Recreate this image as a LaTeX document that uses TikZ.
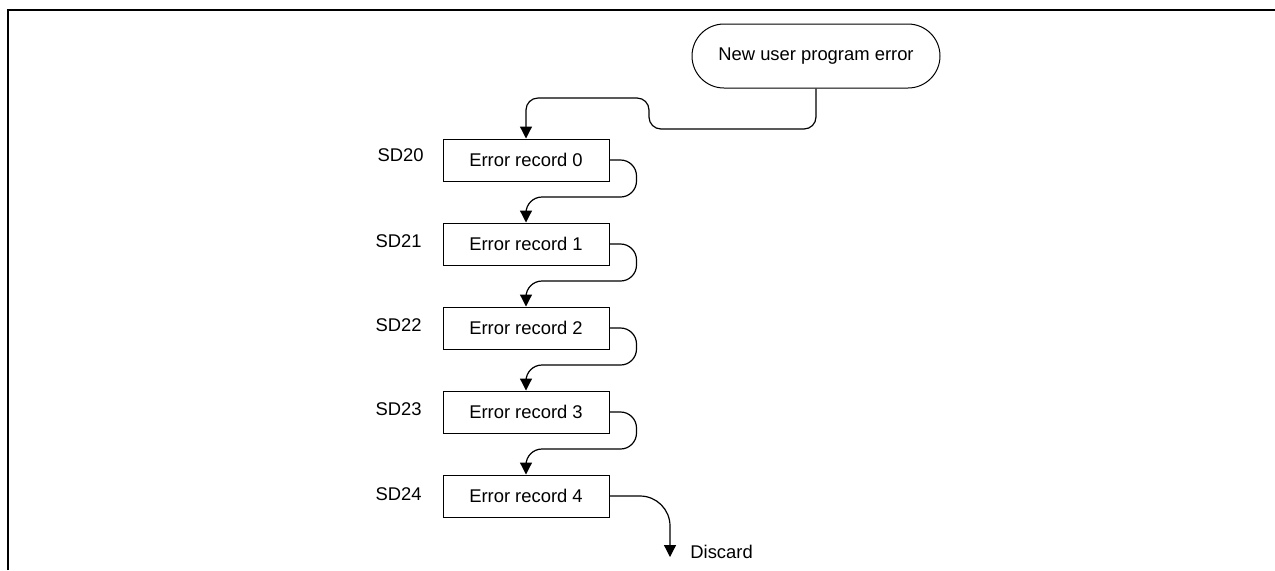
\documentclass[tikz,border=0pt]{standalone}
\usepackage{fontspec}
\setmainfont{Liberation Sans}
\usetikzlibrary{arrows.meta,positioning}

\begin{document}
\begin{tikzpicture}[x=0.5pt,y=-0.5pt,
	txt/.style={font=\fontsize{9.2}{11}\selectfont},
	record/.style={txt,draw,line width=0.5pt,minimum width=83pt,minimum height=21pt,inner sep=0pt},
	terminal/.style={txt,draw,line width=0.5pt,rounded corners=16pt,minimum width=124pt,minimum height=32pt},
	regname/.style={txt,inner sep=0pt,anchor=east},
	link/.style={line width=0.6pt,-{Triangle[length=6pt,width=6pt]}}]
	\useasboundingbox (0,0) rectangle (1275,570);
	% frame
	\draw [line width=1pt] (7.5,570) -- (7.5,10) -- (1275,10);
	
	\node [terminal] (start) at (816,56) {New user program error};
	
	\node [record] (rec0) at (526,160) {Error record 0};
	\node [record] (rec1) at (526,244) {Error record 1};
	\node [record] (rec2) at (526,328) {Error record 2};
	\node [record] (rec3) at (526,412) {Error record 3};
	\node [record] (rec4) at (526,496) {Error record 4};
	
	\node [regname] (sd0) at (424,155) {SD20};
	\node [regname] (sd1) at (422,241) {SD21};
	\node [regname] (sd2) at (422,325) {SD22};
	\node [regname] (sd3) at (422,409) {SD23};
	\node [regname] (sd4) at (422,494) {SD24};
	
	\draw [link, rounded corners=6pt] (start.south) |- (649,129) -- (649,98) -| (rec0.north);
	
	\draw [link, rounded corners=8pt] (rec0.east) -- ++(27,0) -- ++(0,37) -| (rec1.north);
	\draw [link, rounded corners=8pt] (rec1.east) -- ++(27,0) -- ++(0,37) -| (rec2.north);
	\draw [link, rounded corners=8pt] (rec2.east) -- ++(27,0) -- ++(0,37) -| (rec3.north);
	\draw [link, rounded corners=8pt] (rec3.east) -- ++(27,0) -- ++(0,37) -| (rec4.north);
	
	\coordinate (bin) at (670,557);
	\node [txt, inner sep=0pt, anchor=west] (discard) at (690,552) {Discard};
	\draw [link, rounded corners=15pt] (rec4.east) -| (bin);
\end{tikzpicture}
\end{document}
